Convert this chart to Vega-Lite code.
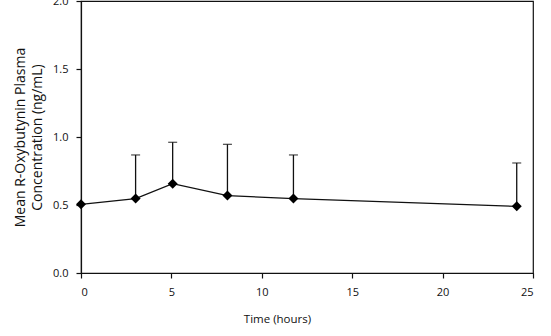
{
  "$schema": "https://vega.github.io/schema/vega-lite/v6.json",
  "autosize": {"type": "none"},
  "width": 452,
  "height": 272,
  "padding": {"left": 81, "top": 1, "right": 18, "bottom": 63},
  "background": "white",
  "config": {
    "view": {"stroke": "#111", "strokeWidth": 1.2},
    "font": "Open Sans",
    "axis": {
      "grid": false,
      "domainColor": "#111",
      "domainWidth": 1.2,
      "tickColor": "#111",
      "tickWidth": 1.2,
      "tickSize": 5,
      "labelFont": "Open Sans",
      "labelFontSize": 11,
      "labelColor": "#111",
      "titleFont": "Open Sans",
      "titleFontSize": 11.5,
      "titleFontWeight": "normal",
      "titleColor": "#111"
    }
  },
  "data": {
    "values": [
      {"time": 0, "mean": 0.505, "upper": null},
      {"time": 3.02, "mean": 0.547, "upper": 0.868},
      {"time": 5.07, "mean": 0.657, "upper": 0.961},
      {"time": 8.1, "mean": 0.569, "upper": 0.946},
      {"time": 11.75, "mean": 0.547, "upper": 0.868},
      {"time": 24.1, "mean": 0.49, "upper": 0.809}
    ]
  },
  "layer": [
    {
      "mark": {"type": "rule", "color": "#111", "strokeWidth": 1.3},
      "transform": [{"filter": "datum.upper != null"}],
      "encoding": {
        "x": {"field": "time", "type": "quantitative"},
        "y": {"field": "mean", "type": "quantitative"},
        "y2": {"field": "upper"}
      }
    },
    {
      "mark": {"type": "tick", "orient": "horizontal", "color": "#111", "size": 9, "thickness": 1.3},
      "transform": [{"filter": "datum.upper != null"}],
      "encoding": {
        "x": {"field": "time", "type": "quantitative"},
        "y": {"field": "upper", "type": "quantitative"}
      }
    },
    {
      "mark": {"type": "line", "color": "#111", "strokeWidth": 1.3, "point": {"shape": "diamond", "size": 100, "filled": true, "color": "#000", "opacity": 1}},
      "encoding": {
        "x": {
          "field": "time", "type": "quantitative",
          "scale": {"domain": [0, 25], "nice": false, "zero": false},
          "axis": {"values": [0, 5, 10, 15, 20, 25], "format": "d", "title": "Time (hours)", "labelPadding": 8, "titlePadding": 16, "titleX": 196}
        },
        "y": {
          "field": "mean", "type": "quantitative",
          "scale": {"domain": [0, 2], "nice": false},
          "axis": {"values": [0, 0.5, 1, 1.5, 2], "format": ".1f", "title": ["Mean R-Oxybutynin Plasma", "Concentration (ng/mL)"], "labelPadding": 8, "titlePadding": 8, "titleLineHeight": 17, "titleFontSize": 14}
        }
      }
    }
  ]
}
